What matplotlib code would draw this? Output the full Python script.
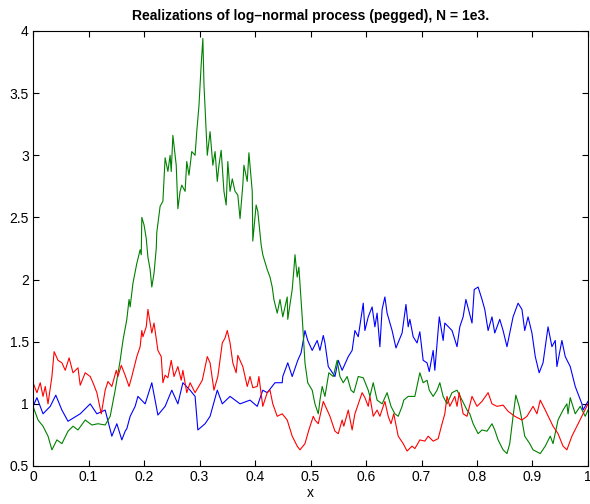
import numpy as np
import matplotlib
matplotlib.use("Agg")
import matplotlib.pyplot as plt

plt.rcParams['font.family'] = ['Liberation Sans', 'DejaVu Sans']

# sample indices (N = 1e3) and values
blue_idx = [0, 7, 18, 31, 41, 52, 63, 85, 103, 115, 130, 142, 151, 160, 166, 169, 175, 184, 189, 202, 207, 214, 225, 238, 250, 261, 270, 283, 292, 297, 310, 319, 332, 341, 355, 373, 391, 404, 414, 422, 436, 449, 450, 459, 467, 477, 483, 490, 495, 503, 512, 517, 523, 526, 532, 544, 550, 557, 568, 575, 580, 586, 595, 598, 604, 611, 616, 620, 625, 629, 634, 638, 647, 654, 665, 672, 676, 679, 685, 692, 697, 703, 710, 714, 721, 724, 732, 739, 742, 755, 764, 769, 775, 780, 791, 795, 802, 809, 814, 820, 827, 832, 841, 847, 854, 865, 874, 881, 886, 892, 899, 905, 912, 919, 928, 935, 941, 944, 953, 959, 968, 977, 989, 991, 1000]
blue_val = [0.98, 1.05, 0.92, 0.98, 1.07, 0.95, 0.86, 0.92, 1.00, 0.92, 0.95, 0.74, 0.84, 0.71, 0.78, 0.80, 0.90, 0.98, 1.06, 1.00, 1.07, 1.17, 0.91, 0.98, 1.11, 1.00, 1.17, 1.11, 1.06, 0.79, 0.84, 0.90, 1.11, 1.00, 1.06, 1.00, 1.03, 0.98, 1.11, 1.09, 1.17, 1.17, 1.22, 1.33, 1.22, 1.35, 1.41, 1.59, 1.51, 1.43, 1.51, 1.43, 1.55, 1.49, 1.30, 1.22, 1.35, 1.27, 1.38, 1.43, 1.59, 1.54, 1.81, 1.59, 1.70, 1.78, 1.62, 1.73, 1.46, 1.76, 1.86, 1.73, 1.59, 1.45, 1.57, 1.80, 1.62, 1.68, 1.54, 1.49, 1.58, 1.35, 1.33, 1.26, 1.43, 1.27, 1.70, 1.51, 1.65, 1.59, 1.46, 1.62, 1.70, 1.84, 1.65, 1.92, 1.94, 1.84, 1.76, 1.59, 1.70, 1.57, 1.68, 1.59, 1.46, 1.70, 1.81, 1.76, 1.59, 1.70, 1.57, 1.38, 1.25, 1.33, 1.62, 1.46, 1.51, 1.30, 1.51, 1.38, 1.30, 1.14, 1.00, 0.95, 1.02]

green_idx = [0, 9, 18, 27, 34, 43, 52, 63, 72, 81, 94, 106, 117, 130, 139, 148, 157, 162, 169, 173, 175, 180, 187, 193, 195, 196, 200, 204, 207, 211, 214, 218, 222, 223, 229, 234, 238, 243, 247, 249, 252, 258, 261, 265, 268, 274, 277, 281, 286, 292, 295, 299, 303, 306, 308, 314, 319, 324, 328, 332, 335, 339, 344, 348, 351, 355, 359, 364, 369, 373, 378, 380, 386, 389, 395, 396, 402, 405, 411, 414, 422, 427, 431, 434, 440, 445, 450, 458, 459, 467, 470, 472, 476, 479, 485, 490, 495, 503, 508, 514, 517, 521, 526, 533, 541, 548, 553, 559, 566, 573, 578, 586, 595, 604, 607, 613, 620, 629, 638, 645, 652, 658, 665, 668, 676, 688, 697, 703, 710, 714, 721, 728, 733, 739, 746, 755, 764, 773, 782, 787, 793, 802, 809, 818, 827, 832, 838, 847, 854, 859, 865, 870, 876, 881, 886, 895, 901, 914, 923, 932, 937, 946, 955, 962, 964, 968, 977, 986, 995, 1000]
green_val = [0.98, 0.87, 0.82, 0.74, 0.63, 0.71, 0.68, 0.78, 0.82, 0.79, 0.87, 0.83, 0.84, 0.83, 0.90, 1.11, 1.35, 1.51, 1.68, 1.84, 1.78, 1.97, 2.13, 2.24, 2.20, 2.50, 2.44, 2.33, 2.18, 2.08, 1.94, 2.05, 2.25, 2.38, 2.59, 2.63, 2.98, 2.87, 3.00, 2.87, 3.16, 2.92, 2.57, 2.71, 2.76, 2.71, 2.95, 2.84, 3.03, 3.00, 3.19, 3.40, 3.73, 3.94, 3.57, 3.00, 3.19, 2.92, 3.03, 2.79, 2.92, 3.04, 2.71, 2.60, 2.95, 2.71, 2.81, 2.71, 2.68, 2.49, 2.76, 2.92, 2.79, 3.02, 2.71, 2.31, 2.60, 2.55, 2.28, 2.20, 2.08, 2.02, 1.94, 1.84, 1.73, 1.84, 1.70, 1.86, 1.68, 1.92, 2.08, 2.20, 2.02, 2.10, 1.70, 1.33, 1.17, 1.11, 1.00, 0.92, 1.03, 1.14, 1.06, 1.25, 1.22, 1.35, 1.22, 1.17, 1.22, 1.11, 1.09, 1.22, 1.21, 1.11, 1.06, 1.17, 1.03, 1.00, 1.09, 0.98, 0.92, 0.90, 0.98, 1.03, 1.06, 1.06, 1.25, 1.17, 1.19, 1.11, 1.06, 1.11, 1.17, 1.06, 1.00, 1.09, 1.11, 1.03, 0.95, 0.92, 0.84, 0.76, 0.79, 0.78, 0.84, 0.79, 0.71, 0.63, 0.60, 0.68, 0.90, 1.07, 0.98, 0.87, 0.74, 0.68, 0.63, 0.60, 0.66, 0.74, 0.68, 0.87, 0.95, 1.00, 0.92, 1.05, 0.92, 0.98, 0.90, 0.95]

red_idx = [0, 7, 13, 18, 22, 27, 34, 38, 45, 52, 58, 65, 72, 81, 85, 94, 103, 108, 115, 123, 130, 135, 142, 150, 153, 159, 166, 173, 178, 187, 193, 196, 198, 204, 207, 214, 218, 225, 231, 234, 238, 243, 249, 254, 261, 267, 270, 277, 283, 292, 305, 314, 319, 326, 333, 341, 346, 350, 355, 360, 366, 369, 378, 386, 391, 396, 404, 407, 414, 422, 427, 432, 440, 449, 458, 467, 476, 481, 490, 497, 505, 508, 514, 523, 530, 535, 544, 550, 557, 560, 568, 575, 580, 593, 598, 604, 607, 613, 620, 625, 634, 640, 645, 650, 658, 667, 674, 683, 688, 692, 697, 706, 712, 721, 730, 737, 742, 746, 751, 760, 764, 768, 775, 782, 791, 800, 809, 820, 827, 836, 847, 856, 868, 881, 890, 901, 908, 914, 923, 937, 946, 955, 962, 971, 980, 991, 1000]
red_val = [1.17, 1.09, 1.17, 1.06, 1.14, 1.00, 1.22, 1.42, 1.35, 1.33, 1.27, 1.37, 1.25, 1.29, 1.15, 1.25, 1.22, 1.17, 1.09, 0.92, 1.11, 1.18, 1.14, 1.27, 1.22, 1.31, 1.23, 1.14, 1.22, 1.38, 1.46, 1.59, 1.54, 1.62, 1.76, 1.57, 1.65, 1.43, 1.38, 1.17, 1.23, 1.21, 1.35, 1.22, 1.30, 1.19, 1.27, 1.09, 1.17, 1.09, 1.19, 1.38, 1.33, 1.11, 1.22, 1.49, 1.53, 1.59, 1.49, 1.33, 1.25, 1.39, 1.30, 1.14, 1.22, 1.13, 1.14, 1.22, 0.98, 1.09, 1.11, 1.00, 0.90, 0.92, 0.87, 0.74, 0.66, 0.63, 0.68, 0.79, 0.90, 0.87, 0.84, 1.02, 0.95, 0.90, 0.78, 0.76, 0.87, 0.82, 0.95, 0.79, 0.92, 1.09, 1.05, 0.98, 1.06, 0.90, 0.95, 0.90, 1.02, 0.90, 0.84, 0.92, 0.74, 0.68, 0.62, 0.66, 0.64, 0.67, 0.71, 0.70, 0.74, 0.70, 0.72, 0.84, 0.92, 1.06, 0.98, 1.06, 0.98, 1.09, 0.92, 0.90, 1.06, 0.98, 1.02, 1.09, 1.00, 0.98, 0.99, 0.94, 0.90, 0.87, 0.90, 0.98, 0.92, 1.03, 0.95, 0.82, 0.76, 0.66, 0.63, 0.74, 0.82, 0.92, 1.00]

N = 1000
xticks = [0, 0.1, 0.2, 0.3, 0.4, 0.5, 0.6, 0.7, 0.8, 0.9, 1]
xticklabels = ['0', '0.1', '0.2', '0.3', '0.4', '0.5', '0.6', '0.7', '0.8', '0.9', '1']
yticks = [0.5, 1, 1.5, 2, 2.5, 3, 3.5, 4]
yticklabels = ['0.5', '1', '1.5', '2', '2.5', '3', '3.5', '4']

fig = plt.figure(figsize=(5.9, 5.04), dpi=100)
ax = fig.add_axes([0.056, 0.0754, 0.9406, 0.8631])

ax.plot(np.array(blue_idx) / N, blue_val, color=(0, 0, 1), lw=0.8)
ax.plot(np.array(green_idx) / N, green_val, color=(0, 0.5, 0), lw=0.8)
ax.plot(np.array(red_idx) / N, red_val, color=(1, 0, 0), lw=0.8)

ax.set_xlim(0, 1)
ax.set_ylim(0.5, 4)
ax.set_xticks(xticks)
ax.set_xticklabels(xticklabels)
ax.set_yticks(yticks)
ax.set_yticklabels(yticklabels)
ax.tick_params(direction='in', top=True, right=True, length=4, width=0.8, labelsize=10, pad=3)
for s in ax.spines.values():
    s.set_linewidth(0.8)
ax.set_xlabel('x', fontsize=10, labelpad=1)
ax.set_title('Realizations of log\u2013normal process (pegged), N = 1e3.', fontsize=10, fontweight='bold', pad=8)

fig.savefig('out.png', dpi=100)
